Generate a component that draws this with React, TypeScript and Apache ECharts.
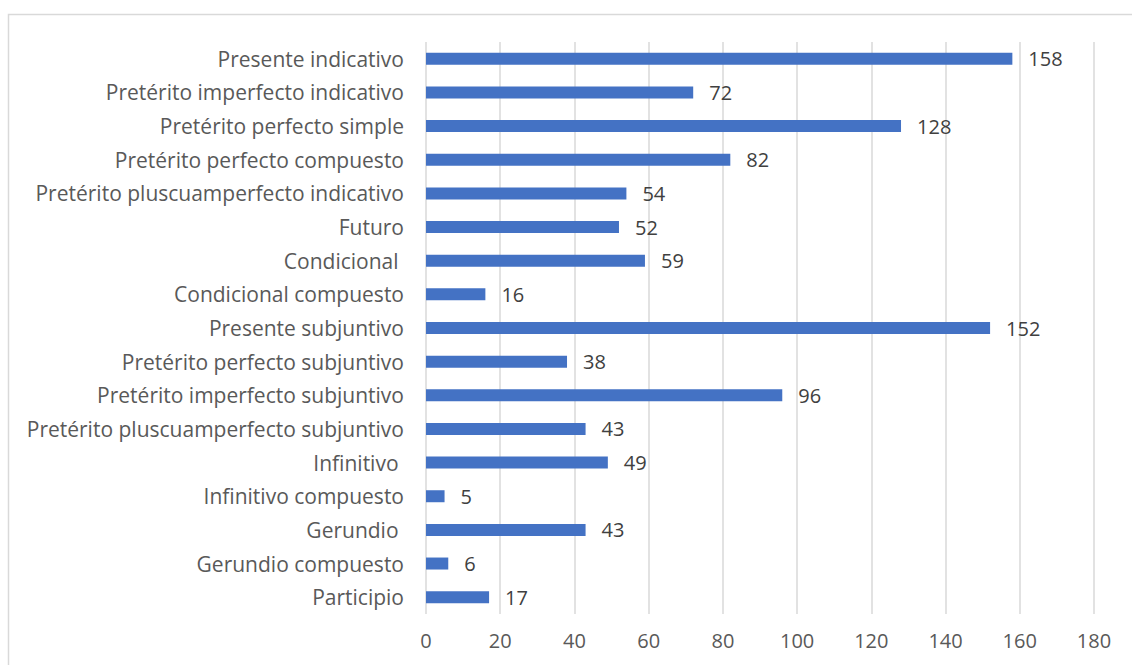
import React, { useEffect, useRef } from "react";
import * as echarts from "echarts";

const categories = [
  "Presente indicativo",
  "Pretérito imperfecto indicativo",
  "Pretérito perfecto simple",
  "Pretérito perfecto compuesto",
  "Pretérito pluscuamperfecto indicativo",
  "Futuro",
  "Condicional ",
  "Condicional compuesto",
  "Presente subjuntivo",
  "Pretérito perfecto subjuntivo",
  "Pretérito imperfecto subjuntivo",
  "Pretérito pluscuamperfecto subjuntivo",
  "Infinitivo ",
  "Infinitivo compuesto",
  "Gerundio ",
  "Gerundio compuesto",
  "Participio",
];

const counts = [158, 72, 128, 82, 54, 52, 59, 16, 152, 38, 96, 43, 49, 5, 43, 6, 17];

const axisMin = 0;
const axisMax = 180;
const axisStep = 20;

const FONT = "'Open Sans', 'Liberation Sans', sans-serif";

export default function App() {
  const ref = useRef<HTMLDivElement>(null);

  useEffect(() => {
    if (!ref.current) return;
    const chart = echarts.init(ref.current, undefined, { renderer: "svg" });
    chart.setOption({
      animation: false,
      backgroundColor: "#ffffff",
      textStyle: { fontFamily: FONT },
      graphic: [
        {
          type: "polyline",
          silent: true,
          shape: { points: [[8.5, 665], [8.5, 14.5], [1132, 14.5]] },
          style: { stroke: "#d9d9d9", lineWidth: 1.5, fill: "none" },
        },
      ],
      grid: { left: 426, right: 38, top: 42, bottom: 51, containLabel: false },
      xAxis: {
        type: "value",
        min: axisMin,
        max: axisMax,
        interval: axisStep,
        axisLine: { show: false },
        axisTick: { show: false },
        axisLabel: { color: "#595959", fontSize: 20, fontFamily: FONT, margin: 16 },
        splitLine: { show: true, lineStyle: { color: "#d9d9d9", width: 1.5 } },
      },
      yAxis: {
        type: "category",
        inverse: true,
        data: categories,
        axisLine: { show: false },
        axisTick: { show: false },
        axisLabel: { color: "#595959", fontSize: 21, fontFamily: FONT, margin: 22 },
      },
      series: [
        {
          type: "bar",
          data: counts,
          barWidth: 12,
          itemStyle: { color: "#4472c4" },
          label: {
            show: true,
            position: "right",
            distance: 16,
            color: "#404040",
            fontSize: 20,
            fontFamily: FONT,
          },
        },
      ],
    });
    return () => chart.dispose();
  }, []);

  return (
    <div
      ref={ref}
      style={{ position: "fixed", left: 0, top: 0, width: 1132, height: 665 }}
    />
  );
}
